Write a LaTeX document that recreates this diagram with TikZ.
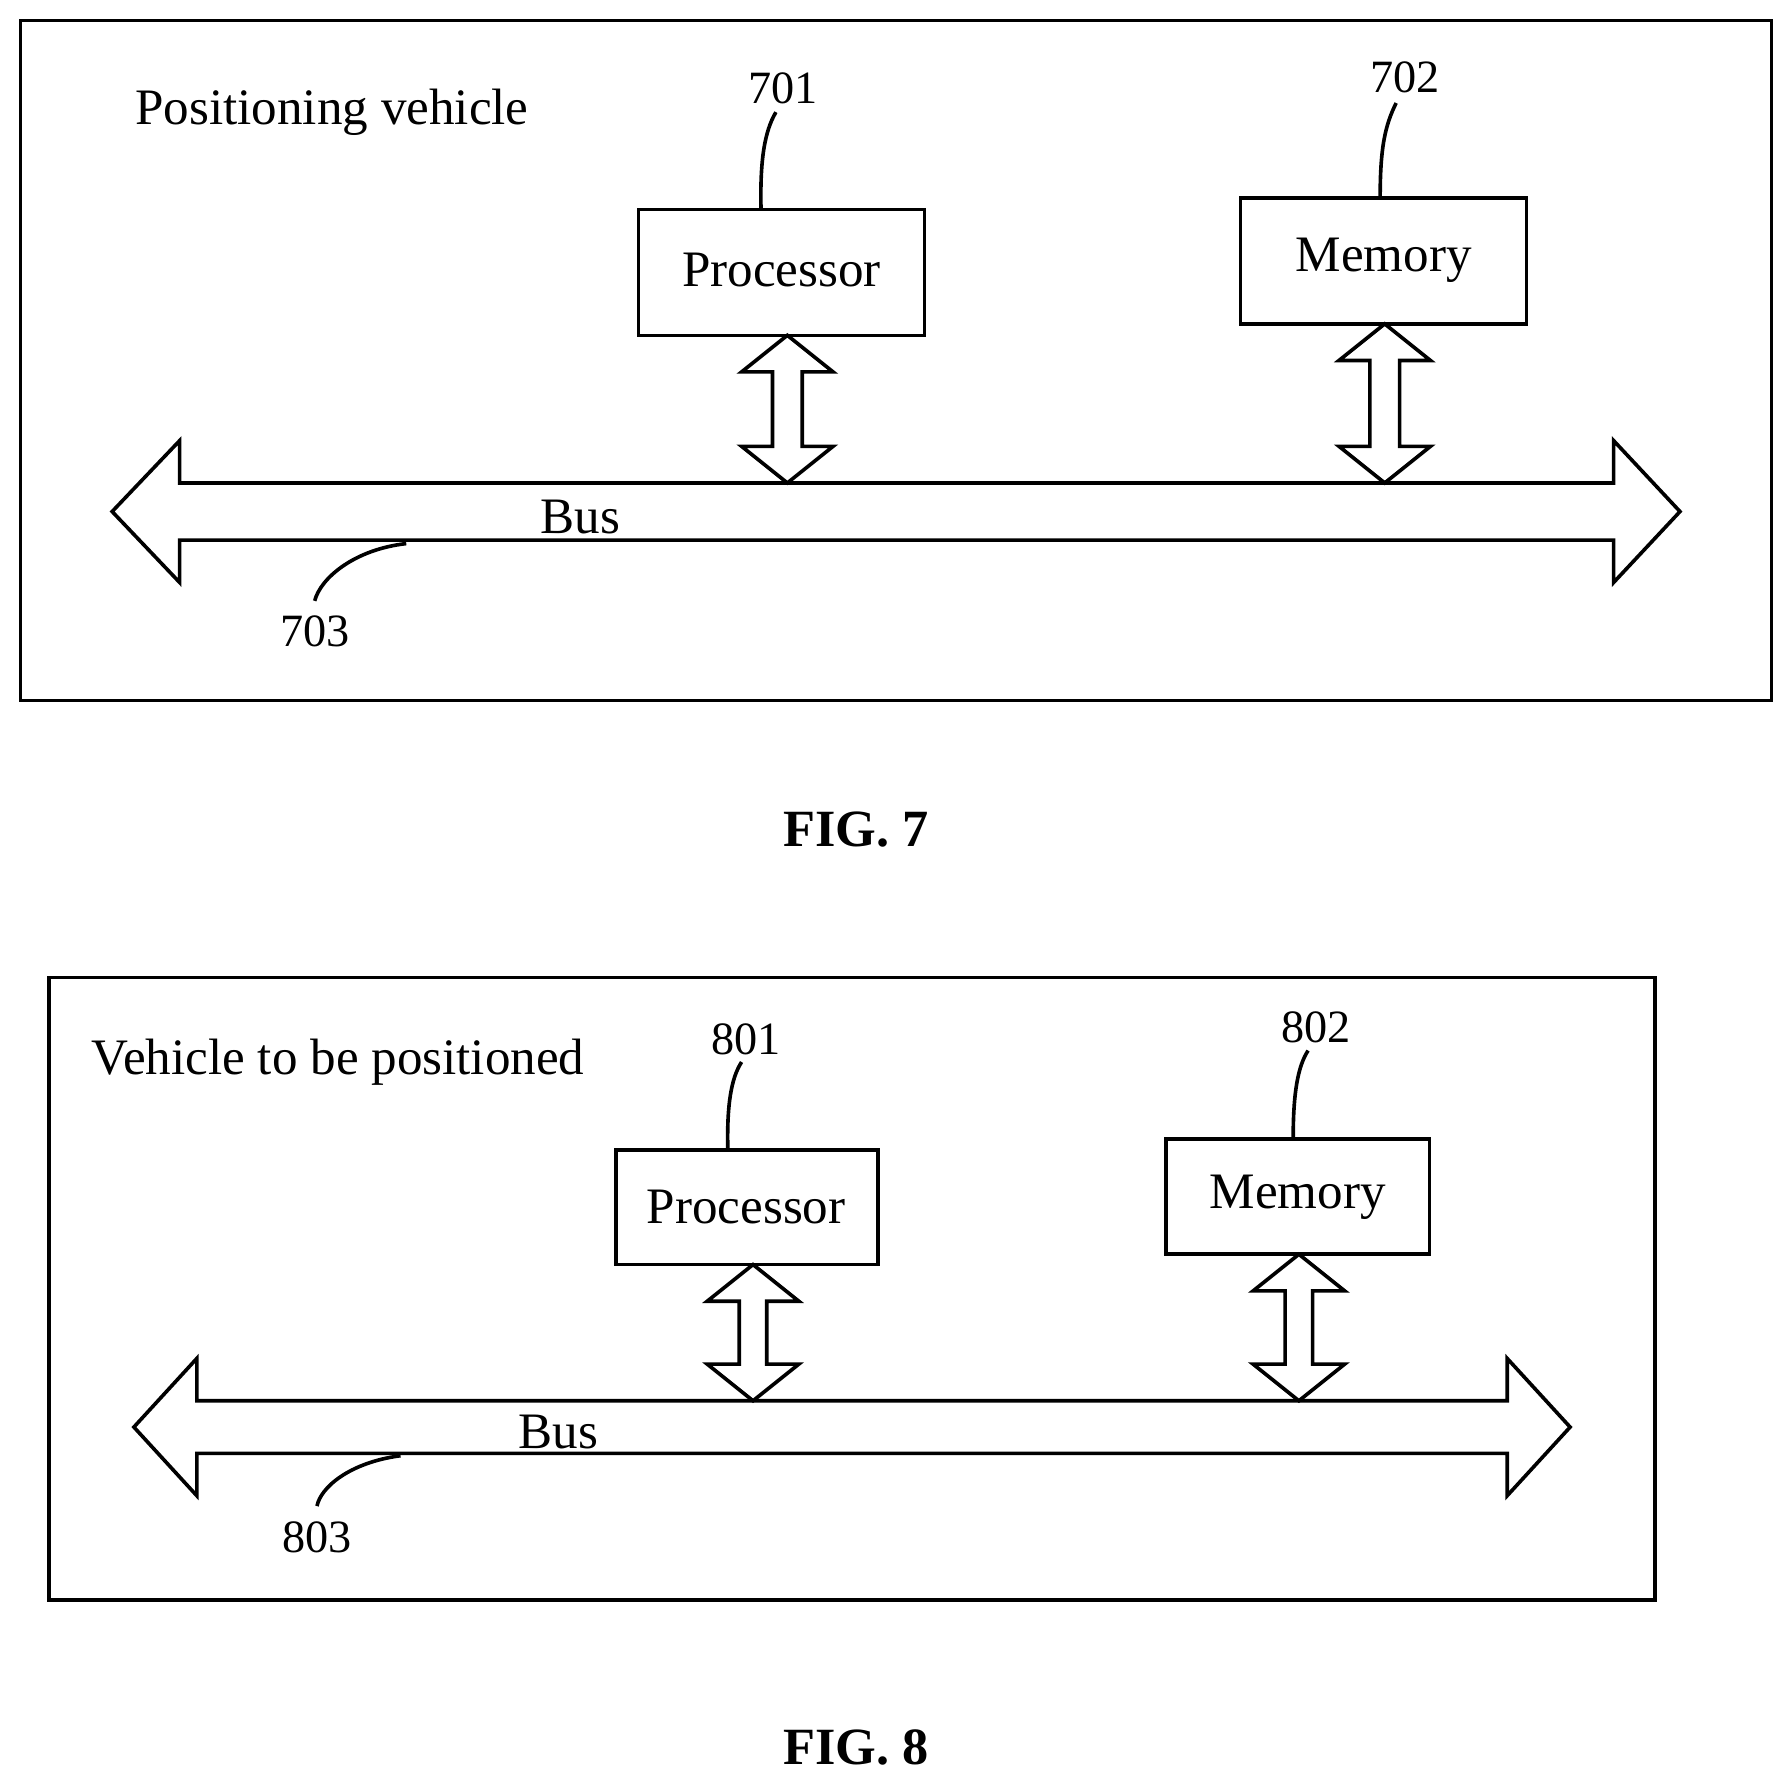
\documentclass[tikz,border=0pt]{standalone}
\usepackage{fontspec}
\setmainfont{Liberation Serif}
\begin{document}
\begin{tikzpicture}[x=0.01cm,y=-0.01cm,line width=0.9pt,
  lbl/.style={font=\fontsize{12.7}{15}\selectfont},
  num/.style={font=\fontsize{11.5}{14}\selectfont},
  fig/.style={font=\bfseries\fontsize{13}{16}\selectfont}]
\useasboundingbox (0,0) rectangle (1565,1560);
\newcommand{\vdarrow}[4]{% x, ytop, ybot, shaft half
  \draw (#1,#2) -- (#1+40,#2+32) -- (#1+#4,#2+32) -- (#1+#4,#3-32) -- (#1+40,#3-32) -- (#1,#3) -- (#1-40,#3-32) -- (#1-#4,#3-32) -- (#1-#4,#2+32) -- (#1-40,#2+32) -- cycle;}
\newcommand{\bus}[6]{% xl tip, xl base, xr base, xr tip, ytop, ybot
  \draw (#1,{(#5+#6)/2}) -- (#2,{#5-37}) -- (#2,#5) -- (#3,#5) -- (#3,{#5-37}) -- (#4,{(#5+#6)/2}) -- (#3,{#6+37}) -- (#3,#6) -- (#2,#6) -- (#2,{#6+37}) -- cycle;}
% FIG 7
\draw (18,18) rectangle (1548,612);
\node[lbl,anchor=west] (t7) at (105,98) {Positioning vehicle};
\draw (558,183) rectangle (808,293); \node[lbl] (p7) at (683,236) {Processor};
\draw (1084,173) rectangle (1334,283); \node[lbl] (m7) at (1209,227) {Memory};
\vdarrow{688}{293}{422}{13}
\vdarrow{1210}{283}{422}{13}
\bus{98}{157}{1410}{1468}{422}{472}
\node[lbl] (b7) at (507,452) {Bus};
\node[num] (n701) at (684,77) {701};
\node[num] (n702) at (1228,68) {702};
\node[num] (n703) at (275,552) {703};
\coordinate (c701) at (678,98);
\coordinate (c702) at (1220,90);
\draw (665,183) .. controls (664,140) and (668,115) .. (c701);
\draw (1206,173) .. controls (1206,130) and (1210,110) .. (c702);
\draw (355,475) .. controls (310,480) and (280,505) .. (n703.north);
\node[fig] (f7) at (748,725) {FIG. 7};
% FIG 8
\draw (43,854) rectangle (1446,1398);
\node[lbl,anchor=west] (t8) at (67,928) {Vehicle to be positioned};
\draw (538,1005) rectangle (767,1105); \node[lbl] (p8) at (652,1055) {Processor};
\draw (1019,995) rectangle (1249,1096); \node[lbl] (m8) at (1134,1046) {Memory};
\vdarrow{658}{1105}{1224}{12}
\vdarrow{1135}{1096}{1224}{12}
\bus{117}{172}{1317}{1372}{1224}{1270}
\node[lbl] (b8) at (488,1251) {Bus};
\node[num] (n801) at (652,908) {801};
\node[num] (n802) at (1150,898) {802};
\node[num] (n803) at (277,1343) {803};
\coordinate (c801) at (648,928);
\coordinate (c802) at (1143,918);
\draw (636,1005) .. controls (635,965) and (639,942) .. (c801);
\draw (1130,995) .. controls (1130,955) and (1134,932) .. (c802);
\draw (350,1272) .. controls (305,1278) and (280,1300) .. (n803.north);
\node[fig] (f8) at (748,1527) {FIG. 8};
\end{tikzpicture}
\end{document}
